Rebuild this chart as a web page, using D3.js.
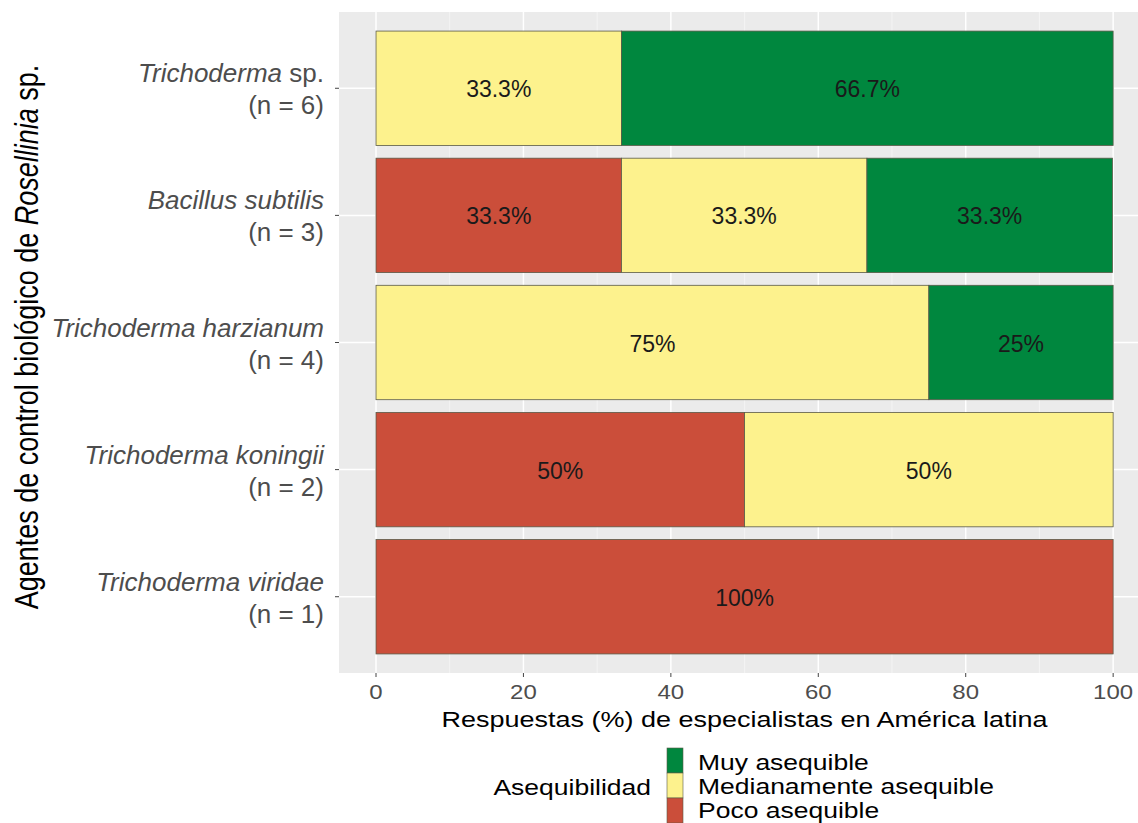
<!DOCTYPE html>
<html>
<head>
<meta charset="utf-8">
<script src="https://cdn.jsdelivr.net/npm/d3@7"></script>
<style>
  body { margin: 0; background: #fff; }
  svg { display: block; font-family: "Liberation Sans", Arial, sans-serif; }
</style>
</head>
<body>
<svg id="chart" width="1138" height="823"></svg>
<script>
// agents (italic part, upright suffix) and sample sizes
const agents = ["Trichoderma", "Bacillus subtilis", "Trichoderma harzianum", "Trichoderma koningii", "Trichoderma viridae"];
const agentSuffix = [" sp.", "", "", "", ""];
const sampleSizes = [6, 3, 4, 2, 1];

// percentage of answers per affordability level
const poco = [0, 33.3, 0, 50, 100];
const mediana = [33.3, 33.3, 75, 50, 0];
const muy = [66.7, 33.3, 25, 0, 0];

const levels = ["Poco asequible", "Medianamente asequible", "Muy asequible"];
const levelColors = ["#cb4e3a", "#fdf28d", "#00873e"];
const xTicks = [0, 20, 40, 60, 80, 100];
const xMinor = [10, 30, 50, 70, 90];

const svg = d3.select("#chart");
const panel = { left: 339, top: 12, bottom: 673 };

// x: 0..100 with ggplot-style 5% expansion
const x = d3.scaleLinear().domain([-5, 105]).range([339.15, 1150]);

// discrete y with 0.6 expansion on both sides
const step = (panel.bottom - panel.top) / (agents.length + 0.2);
const y = d3.scalePoint().domain(d3.range(agents.length))
  .range([panel.top + step * 0.6, panel.bottom - step * 0.6]);
const barH = step * 0.9;

// panel background
svg.append("rect").attr("x", panel.left).attr("y", panel.top)
  .attr("width", 1138 - panel.left).attr("height", panel.bottom - panel.top)
  .attr("fill", "#ebebeb");

// grid
xMinor.forEach(v => {
  svg.append("line").attr("x1", x(v)).attr("x2", x(v))
    .attr("y1", panel.top).attr("y2", panel.bottom)
    .attr("stroke", "#f6f6f6").attr("stroke-width", 0.8);
});
xTicks.forEach(v => {
  svg.append("line").attr("x1", x(v)).attr("x2", x(v))
    .attr("y1", panel.top).attr("y2", panel.bottom)
    .attr("stroke", "#fff").attr("stroke-width", 1.5);
});
agents.forEach((a, i) => {
  svg.append("line").attr("x1", panel.left).attr("x2", 1138)
    .attr("y1", y(i)).attr("y2", y(i))
    .attr("stroke", "#fff").attr("stroke-width", 1.5);
});

// stacked bars
const rows = agents.map((a, i) => ({ i, "Poco asequible": poco[i], "Medianamente asequible": mediana[i], "Muy asequible": muy[i] }));
const series = d3.stack().keys(levels)(rows);
const fmt = v => (Math.round(v * 10) / 10) + "%";

series.forEach((s, k) => {
  s.forEach(d => {
    const v = d[1] - d[0];
    if (v <= 0) return;
    const i = d.data.i;
    svg.append("rect")
      .attr("x", x(d[0])).attr("y", y(i) - barH / 2)
      .attr("width", x(d[1]) - x(d[0])).attr("height", barH)
      .attr("fill", levelColors[k])
      .attr("stroke", "#5a5a48").attr("stroke-width", 0.8);
    svg.append("text")
      .attr("x", x((d[0] + d[1]) / 2)).attr("y", y(i) + 9)
      .attr("text-anchor", "middle").attr("font-size", 23).attr("fill", "#1a1a1a")
      .text(fmt(v));
  });
});

// y ticks + two-line labels
agents.forEach((a, i) => {
  svg.append("line").attr("x1", panel.left - 4).attr("x2", panel.left)
    .attr("y1", y(i)).attr("y2", y(i)).attr("stroke", "#444").attr("stroke-width", 1);
  const t = svg.append("text").attr("x", 324).attr("y", y(i) - 6)
    .attr("text-anchor", "end").attr("font-size", 26).attr("fill", "#4d4d4d");
  t.append("tspan").attr("font-style", "italic").text(a);
  if (agentSuffix[i]) t.append("tspan").text(agentSuffix[i]);
  svg.append("text").attr("x", 324).attr("y", y(i) + 26)
    .attr("text-anchor", "end").attr("font-size", 26).attr("fill", "#4d4d4d")
    .text(`(n = ${sampleSizes[i]})`);
});

// x ticks + labels (text slightly squashed vertically like the source)
xTicks.forEach(v => {
  svg.append("line").attr("x1", x(v)).attr("x2", x(v))
    .attr("y1", panel.bottom).attr("y2", panel.bottom + 4).attr("stroke", "#444");
  svg.append("text")
    .attr("transform", `translate(${x(v)},699) scale(1,0.85)`)
    .attr("text-anchor", "middle").attr("font-size", 24).attr("fill", "#4d4d4d")
    .text(v);
});

// axis titles
svg.append("text")
  .attr("transform", `translate(${(x(0) + x(100)) / 2},727) scale(1,0.85)`)
  .attr("text-anchor", "middle").attr("font-size", 27).attr("fill", "#000")
  .text("Respuestas (%) de especialistas en América latina");

const yt = svg.append("text")
  .attr("transform", "translate(38,337) scale(1.2,1) rotate(-90)")
  .attr("text-anchor", "middle").attr("font-size", 27).attr("fill", "#000");
yt.append("tspan").text("Agentes de control biológico de ");
yt.append("tspan").attr("font-style", "italic").text("Rosellinia");
yt.append("tspan").text(" sp.");

// legend (Muy on top)
const legendItems = levels.slice().reverse();
const legendCols = levelColors.slice().reverse();
legendItems.forEach((lab, j) => {
  svg.append("rect").attr("x", 667).attr("y", 748 + j * 25)
    .attr("width", 16).attr("height", 25)
    .attr("fill", legendCols[j]).attr("stroke", "#5a5a48").attr("stroke-width", 0.6);
  svg.append("text")
    .attr("transform", `translate(698,${770 + j * 24}) scale(1,0.85)`)
    .attr("font-size", 26.5).attr("fill", "#000").text(lab);
});
svg.append("text")
  .attr("transform", "translate(651,795) scale(1,0.85)")
  .attr("text-anchor", "end").attr("font-size", 26.5).attr("fill", "#000")
  .text("Asequibilidad");
</script>
</body>
</html>
